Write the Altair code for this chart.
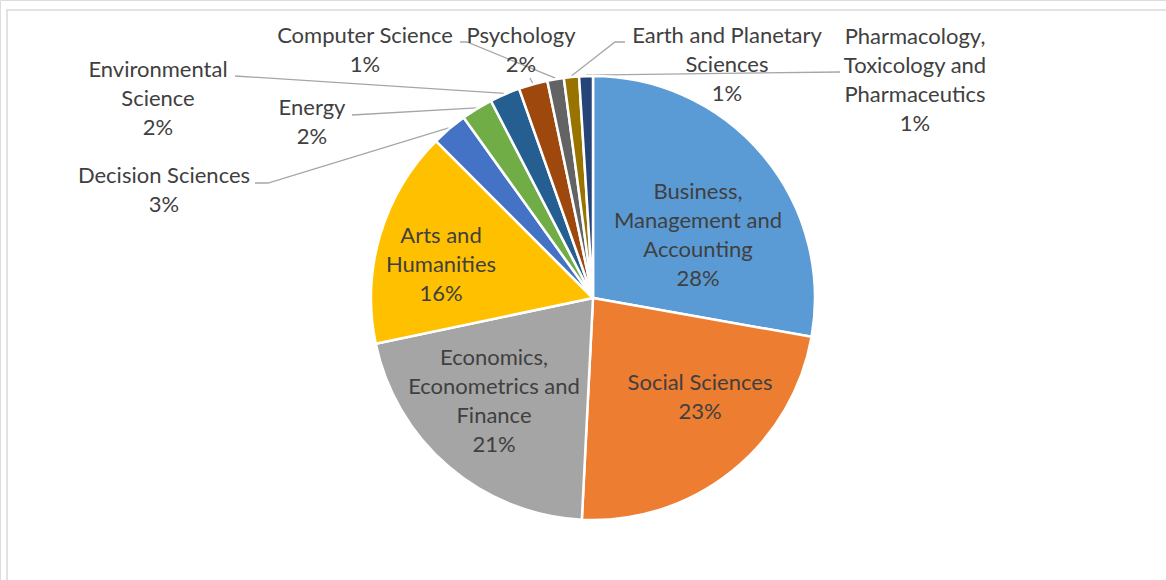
import math
import altair as alt
import pandas as pd

# ---- data ----
categories = [
    "Business, Management and Accounting",
    "Social Sciences",
    "Economics, Econometrics and Finance",
    "Arts and Humanities",
    "Decision Sciences",
    "Energy",
    "Environmental Science",
    "Psychology",
    "Computer Science",
    "Earth and Planetary Sciences",
    "Pharmacology, Toxicology and Pharmaceutics",
]
values = [27.8, 23.0, 20.9, 15.8, 2.6, 2.3, 2.2, 2.1, 1.2, 1.1, 1.0]
label_lines = [
    ["Business,", "Management and", "Accounting"],
    ["Social Sciences"],
    ["Economics,", "Econometrics and", "Finance"],
    ["Arts and", "Humanities"],
    ["Decision Sciences"],
    ["Energy"],
    ["Environmental", "Science"],
    ["Psychology"],
    ["Computer Science"],
    ["Earth and Planetary", "Sciences"],
    ["Pharmacology,", "Toxicology and", "Pharmaceutics"],
]
colors = ["#5B9BD5", "#ED7D31", "#A5A5A5", "#FFC000", "#4472C4", "#70AD47",
          "#255E91", "#9E480E", "#636363", "#997300", "#264478"]

# ---- layout (pixels) ----
CX, CY, R = 593, 298, 222
LH = 29
# centre of each label block
label_pos = [(698, 235), (700, 397.5), (494, 401), (441, 265), (164, 190.5),
             (312, 122.5), (158, 99), (521, 50.5), (365, 50.5), (727, 65), (915, 80)]
# leader-line start points near each outside label (None = inside label)
leader_start = [None, None, None, None,
                [(255, 183), (268, 183)],
                [(352, 115)],
                [(235, 76)],
                [(530, 78)],
                [(460, 42), (467, 42)],
                [(625, 42), (615, 42)],
                [(840, 72)]]

total = sum(values)
pie_df = pd.DataFrame({"category": categories, "value": values, "idx": list(range(len(values)))})

labels = []
for i, (lines, v) in enumerate(zip(label_lines, values)):
    all_lines = lines + [f"{round(v / total * 100)}%"]
    n = len(all_lines)
    labels.append({"text": "\n".join(all_lines), "x": label_pos[i][0],
                   "y": label_pos[i][1] - (n - 1) * LH / 2})
lab_df = pd.DataFrame(labels)

# leader lines end on the slice edge at the slice mid-angle
lead_rows = []
cum = 0.0
for i, v in enumerate(values):
    mid = (cum + v / 2) / total * 2 * math.pi
    cum += v
    if leader_start[i] is None:
        continue
    ex = CX + (R + 1) * math.sin(mid)
    ey = CY - (R + 1) * math.cos(mid)
    pts = leader_start[i] + [(ex, ey)]
    for k, (px, py) in enumerate(pts):
        lead_rows.append({"id": i, "k": k, "x": px, "y": py})
lead_df = pd.DataFrame(lead_rows)

border = alt.Chart(pd.DataFrame({"a": [0]})).mark_rect(
    fill=None, stroke="#D9D9D9", strokeWidth=1.5
).encode(x=alt.value(7), y=alt.value(10), x2=alt.value(1200), y2=alt.value(640))

pie = alt.Chart(pie_df).mark_arc(outerRadius=R, stroke="white", strokeWidth=2.5).encode(
    theta=alt.Theta("value:Q", stack=True),
    order=alt.Order("idx:Q"),
    color=alt.Color("category:N", scale=alt.Scale(domain=categories, range=colors), legend=None),
    x=alt.value(CX),
    y=alt.value(CY),
)

leaders = alt.Chart(lead_df).mark_line(color="#A6A6A6", strokeWidth=1.3).encode(
    x=alt.X("x:Q", scale=None),
    y=alt.Y("y:Q", scale=None),
    detail="id:N",
    order="k:Q",
)

text = alt.Chart(lab_df).mark_text(
    font="Lato", fontSize=22, color="#404040", lineBreak="\n", lineHeight=LH,
    align="center", baseline="middle"
).encode(
    x=alt.X("x:Q", scale=None),
    y=alt.Y("y:Q", scale=None),
    text="text:N",
)

chart = alt.layer(border, leaders, pie, text).properties(
    width=1166, height=580, autosize=alt.AutoSizeParams(type="none"), padding=0
).configure_view(stroke=None).configure(background="white")

chart.save("out.html", embed_options={"renderer": "svg", "actions": False})
